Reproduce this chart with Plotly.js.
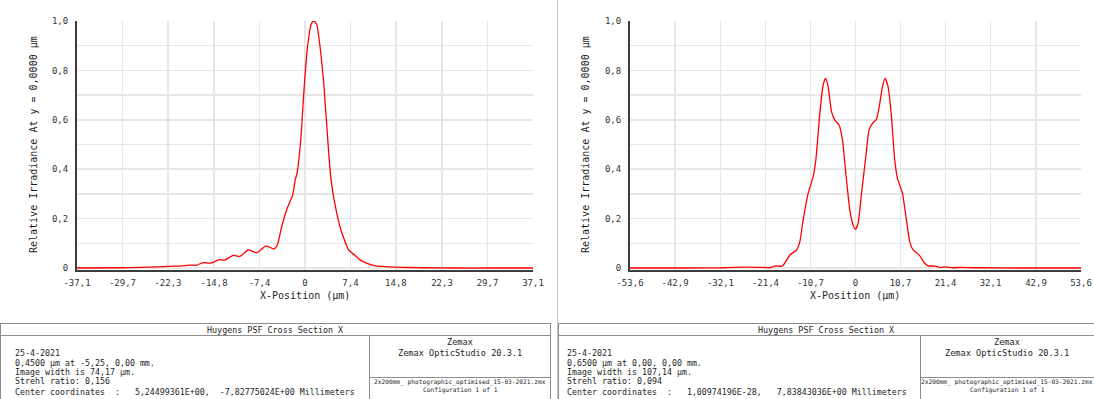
<!DOCTYPE html>
<html>
<head>
<meta charset="utf-8">
<script src="https://cdn.plot.ly/plotly-3.0.1.min.js"></script>
<style>
html,body{margin:0;padding:0;background:#fff;}
#chart{width:1094px;height:399px;}
</style>
</head>
<body>
<div id="chart"></div>
<script>
// ---- Data ----
const leftX = [-37.1, -30, -26.8, -24, -22.2, -20.4, -18.8, -17.7, -16.6, -15.25, -14.0, -13.05, -11.7, -10.6, -9.25, -7.8, -6.35, -5.05, -4.5, -3.8, -2.9, -2.0, -1.6, -1.3, -0.7, -0.1, 0.4, 1.0, 1.4, 1.9, 2.4, 3.1, 3.9, 4.25, 4.9, 5.85, 7.1, 8.2, 9.0, 10.1, 11.7, 13.0, 14.5, 17, 19.1, 24.8, 30, 37.1];
const leftY = [0, 0.001, 0.003, 0.005, 0.007, 0.008, 0.012, 0.011, 0.022, 0.020, 0.034, 0.032, 0.051, 0.047, 0.073, 0.062, 0.090, 0.077, 0.093, 0.167, 0.242, 0.296, 0.356, 0.383, 0.517, 0.745, 0.893, 0.987, 1.0, 0.987, 0.906, 0.732, 0.450, 0.356, 0.255, 0.154, 0.073, 0.050, 0.032, 0.019, 0.008, 0.006, 0.004, 0.002, 0.001, 0, 0, 0];

const rightX = [-53.6, -40, -32, -28.7, -25.4, -22.73, -20.36, -19.17, -17.34, -15.61, -14.01, -13.23, -12.45, -11.26, -10.07, -9.43, -8.48, -7.70, -7.13, -6.51, -5.70, -4.92, -3.90, -3.09, -2.30, -1.35, -0.57, 0, 0.62, 1.43, 2.45, 3.23, 4.04, 4.99, 5.77, 6.41, 7.03, 7.74, 8.55, 9.33, 9.98, 11.16, 12.11, 12.90, 13.68, 15.11, 16.46, 17.24, 18.84, 20.03, 21.62, 23.18, 25.2, 28.9, 40, 53.6];
const rightY = [0, 0, 0.001, 0.003, 0.004, 0.003, 0.001, 0.008, 0.008, 0.053, 0.073, 0.106, 0.194, 0.302, 0.370, 0.437, 0.626, 0.741, 0.768, 0.734, 0.633, 0.599, 0.579, 0.518, 0.383, 0.235, 0.174, 0.157, 0.181, 0.302, 0.451, 0.559, 0.586, 0.602, 0.667, 0.734, 0.768, 0.734, 0.613, 0.437, 0.363, 0.302, 0.194, 0.106, 0.073, 0.053, 0.019, 0.009, 0.008, 0.003, 0.005, 0.001, 0.003, 0.001, 0, 0];

const leftTickVals = [-37.1, -29.7, -22.3, -14.8, -7.4, 0, 7.4, 14.8, 22.3, 29.7, 37.1];
const leftTickText = ["-37,1", "-29,7", "-22,3", "-14,8", "-7,4", "0", "7,4", "14,8", "22,3", "29,7", "37,1"];
const rightTickVals = [-53.6, -42.9, -32.1, -21.4, -10.7, 0, 10.7, 21.4, 32.1, 42.9, 53.6];
const rightTickText = ["-53,6", "-42,9", "-32,1", "-21,4", "-10,7", "0", "10,7", "21,4", "32,1", "42,9", "53,6"];
const yTickVals = [0, 0.1, 0.2, 0.3, 0.4, 0.5, 0.6, 0.7, 0.8, 0.9, 1.0];
const yTickText = ["0", "", "0,2", "", "0,4", "", "0,6", "", "0,8", "", "1,0"];

const xTitle = "X-Position (µm)";
const yTitle = "Relative Irradiance At y = 0,0000 µm";
const boxTitle = "Huygens PSF Cross Section X";
const leftInfo = ["25-4-2021", "0,4500 µm at -5,25, 0,00 mm.", "Image width is 74,17 µm.", "Strehl ratio: 0,156", "Center coordinates  :   5,24499361E+00,  -7,82775024E+00 Millimeters"];
const rightInfo = ["25-4-2021", "0,6500 µm at 0,00, 0,00 mm.", "Image width is 107,14 µm.", "Strehl ratio: 0,094", "Center coordinates  :   1,00974196E-28,   7,83843036E+00 Millimeters"];
const brandLines = ["Zemax", "Zemax OpticStudio 20.3.1"];
const fileLines = ["2x200mm_ photographic_optimised_15-03-2021.zmx", "Configuration 1 of 1"];

// ---- Layout helpers (pixel -> paper) ----
const W = 1094, H = 399;
const px = v => v / W;
const py = v => 1 - v / H;
const nb = s => s.replace(/ /g, "\u00a0");
const MONO = "DejaVu Sans Mono, Liberation Mono, monospace";

const lineStyle = {color: "#ff0000", width: 1.3};
const traces = [
  {x: leftX, y: leftY, type: "scatter", mode: "lines", line: Object.assign({shape: "spline", smoothing: 0.5}, lineStyle), xaxis: "x", yaxis: "y", hoverinfo: "skip"},
  {x: rightX, y: rightY, type: "scatter", mode: "lines", line: Object.assign({shape: "spline", smoothing: 0.5}, lineStyle), xaxis: "x2", yaxis: "y2", hoverinfo: "skip"}
];

const yDomain = [py(269.5), py(21)];
function xAxis(dom, vals, text, anchor) {
  return {
    domain: dom, anchor: anchor, range: [vals[0], vals[vals.length - 1]],
    tickmode: "array", tickvals: vals, ticktext: text,
    showgrid: true, gridcolor: "#e6e6e6", gridwidth: 1.5,
    zeroline: false, showline: true, linecolor: "#3c3c3c", linewidth: 2,
    ticks: "", ticklabelstandoff: 4,
    tickfont: {family: MONO, size: 9, color: "#333"}
  };
}
function yAxis(anchor) {
  return {
    domain: yDomain, anchor: anchor, range: [-0.006, 1.0],
    tickmode: "array", tickvals: yTickVals, ticktext: yTickText,
    showgrid: true, gridcolor: "#e6e6e6", gridwidth: 1.5,
    zeroline: false, showline: true, linecolor: "#3c3c3c", linewidth: 2,
    ticks: "", ticklabelstandoff: 5,
    tickfont: {family: MONO, size: 9, color: "#333"}
  };
}

const L = {x0: 77, x1: 533}, R = {x0: 630, x1: 1081};

const shapes = [];
function hline(x0, x1, y, color) { shapes.push({type: "line", xref: "paper", yref: "paper", x0: px(x0), x1: px(x1), y0: py(y), y1: py(y), line: {color: color || "#8c8c8c", width: 1}}); }
function vline(x, y0, y1, color) { shapes.push({type: "line", xref: "paper", yref: "paper", x0: px(x), x1: px(x), y0: py(y0), y1: py(y1), line: {color: color || "#8c8c8c", width: 1}}); }

// panel divider
vline(557.5, 0, 399, "#c4c4c4");
// left info box
hline(0, 550.5, 323.5); hline(0, 550.5, 335.5); vline(550.5, 323, 399); vline(0.5, 323, 399);
vline(369.5, 335.5, 399); hline(369.5, 550.5, 377.5);
// right info box
hline(558, 1094, 323.5); hline(558, 1094, 335.5); vline(558.5, 323, 399);
vline(920.5, 335.5, 399); hline(920.5, 1094, 377.5);

const annotations = [];
function ann(text, x, y, size, xanchor, extra) {
  annotations.push(Object.assign({text: nb(text), xref: "paper", yref: "paper", x: px(x), y: py(y), xanchor: xanchor || "left", yanchor: "middle", showarrow: false, font: {family: MONO, size: size, color: "#1e1e1e"}}, extra || {}));
}
// axis titles
ann(xTitle, (L.x0 + L.x1) / 2, 295, 10, "center");
ann(xTitle, (R.x0 + R.x1) / 2, 295, 10, "center");
ann(yTitle, 34, 145, 10, "center", {textangle: -90});
ann(yTitle, 586, 145, 10, "center", {textangle: -90});

// info boxes
const lineYs = [353, 362.5, 372, 381, 391.5];
ann(boxTitle, 275, 329.5, 8.4, "center");
ann(boxTitle, 826, 329.5, 8.4, "center");
leftInfo.forEach((t, i) => ann(t, 13, lineYs[i], 8.3, "left"));
rightInfo.forEach((t, i) => ann(t, 565, lineYs[i], 8.3, "left"));
ann(brandLines[0], 460, 341.5, 8.6, "center");
ann(brandLines[1], 460, 353, 8.6, "center");
ann(brandLines[0], 1007, 341.5, 8.6, "center");
ann(brandLines[1], 1007, 353, 8.6, "center");
ann(fileLines[0], 460, 382, 6.2, "center");
ann(fileLines[1], 460, 389.5, 6.2, "center");
ann(fileLines[0], 1007, 382, 6.2, "center");
ann(fileLines[1], 1007, 389.5, 6.2, "center");

const layout = {
  width: W, height: H,
  margin: {l: 0, r: 0, t: 0, b: 0},
  paper_bgcolor: "#ffffff", plot_bgcolor: "#ffffff",
  showlegend: false,
  xaxis: xAxis([px(L.x0), px(L.x1)], leftTickVals, leftTickText, "y"),
  yaxis: yAxis("x"),
  xaxis2: xAxis([px(R.x0), px(R.x1)], rightTickVals, rightTickText, "y2"),
  yaxis2: yAxis("x2"),
  shapes: shapes,
  annotations: annotations
};

Plotly.newPlot("chart", traces, layout, {displayModeBar: false, staticPlot: true});
</script>
</body>
</html>
